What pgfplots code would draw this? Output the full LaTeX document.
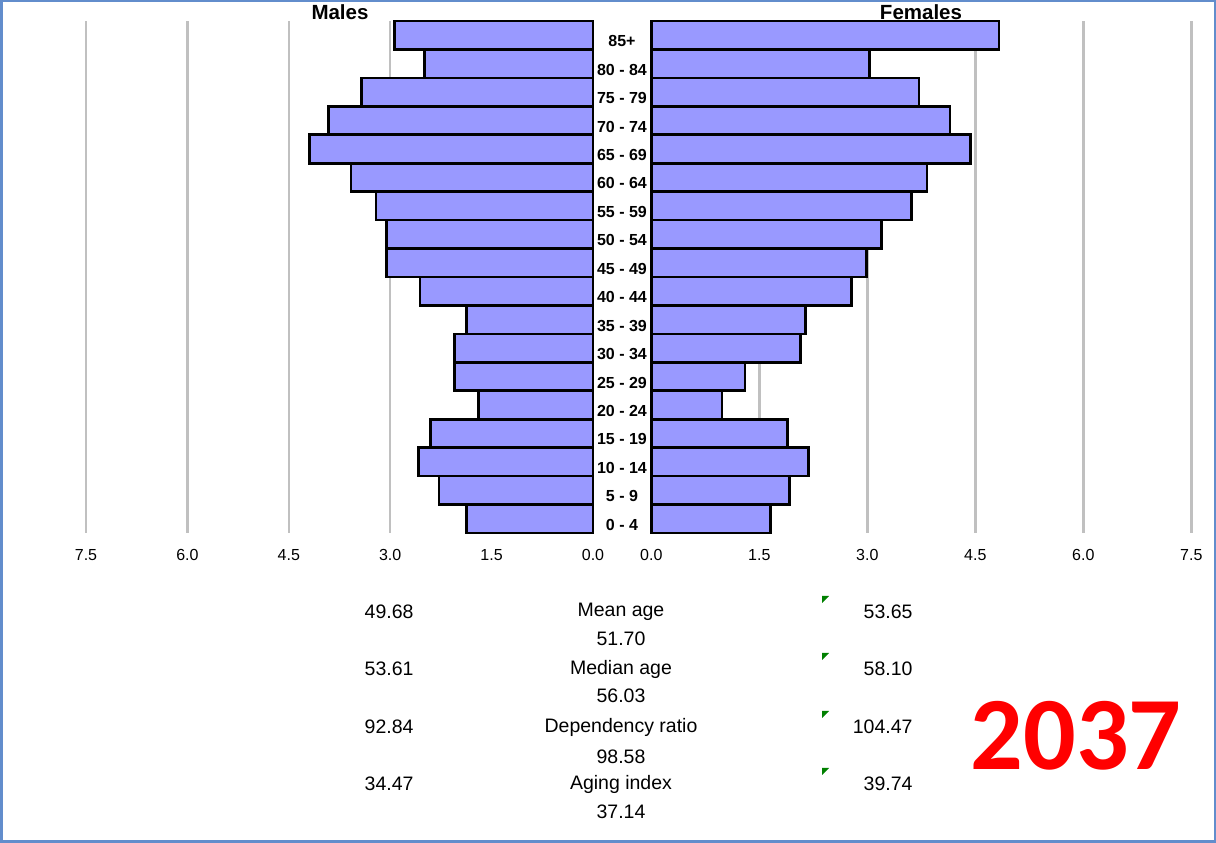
\documentclass[border=0pt]{standalone}
\usepackage{fontspec}
\setmainfont{Liberation Sans}
\newfontfamily\carlito{Carlito}
\usepackage{pgfplots}
\pgfplotsset{compat=1.18}

\definecolor{barfill}{RGB}{153,153,255}
\definecolor{gridgray}{RGB}{192,192,192}
\definecolor{framecol}{RGB}{98,141,204}
\definecolor{errgreen}{RGB}{0,128,0}

\pgfplotsset{
  pyr/.style={
    scale only axis, height=512pt,
    ymin=-0.5, ymax=17.5,
    xmin=0, xmax=7.5, xtick={0,1.5,3,4.5,6,7.5},
    axis line style={draw=none}, major tick length=0pt,
    xmajorgrids, grid style={gridgray, line width=2.5pt},
    xbar, bar width=1, clip=false,
    xticklabel style={anchor=center, yshift=-22pt, font=\fontsize{16}{19}\selectfont},
    /pgf/number format/fixed,
    /pgf/number format/fixed zerofill,
    /pgf/number format/precision=1,
    /pgf/number format/assume math mode=true,
  },
  bars/.style={fill=barfill, draw=black, line width=2.7pt},
}

\begin{document}
\begin{tikzpicture}[x=1pt, y=1pt]
  \path[use as bounding box] (0,0) rectangle (1216,843);

  % males, reversed
  \begin{axis}[pyr, at={(86pt,310pt)}, anchor=south west, width=507pt,
      x dir=reverse, ytick=\empty]
    \addplot[bars] coordinates {
      (1.87,0) (2.28,1) (2.58,2) (2.40,3) (1.69,4) (2.05,5)
      (2.05,6) (1.87,7) (2.56,8) (3.05,9) (3.05,10) (3.21,11)
      (3.58,12) (4.19,13) (3.91,14) (3.42,15) (2.49,16) (2.94,17)
    };
  \end{axis}

  % females, with age labels in the middle
  \begin{axis}[pyr, at={(651.3pt,310pt)}, anchor=south west, width=540pt,
      ytick={0,...,17},
      yticklabels={0 - 4,5 - 9,10 - 14,15 - 19,20 - 24,25 - 29,30 - 34,35 - 39,
        40 - 44,45 - 49,50 - 54,55 - 59,60 - 64,65 - 69,70 - 74,75 - 79,80 - 84,85+},
      yticklabel style={anchor=center, xshift=-29.3pt, yshift=-6pt,
        font=\bfseries\fontsize{16}{19}\selectfont}]
    \addplot[bars] coordinates {
      (1.66,0) (1.92,1) (2.18,2) (1.89,3) (0.98,4) (1.30,5)
      (2.07,6) (2.14,7) (2.78,8) (2.99,9) (3.20,10) (3.61,11)
      (3.83,12) (4.43,13) (4.15,14) (3.72,15) (3.03,16) (4.83,17)
    };
  \end{axis}

  \node[font=\bfseries\fontsize{20.5}{24}\selectfont] at (340,831) {Males};
  \node[font=\bfseries\fontsize{20.5}{24}\selectfont] at (921,831) {Females};

  % indicators
  \begin{scope}[font=\fontsize{19.5}{22}\selectfont]
    \node[anchor=east] at (417,231) {49.68};
    \node at (621,231) {Mean age};
    \node[anchor=east] at (916,231) {53.65};
    \node at (621,204) {51.70};
    \node[anchor=east] at (417,174) {53.61};
    \node at (621,174) {Median age};
    \node[anchor=east] at (916,174) {58.10};
    \node at (621,147) {56.03};
    \node[anchor=east] at (417,116) {92.84};
    \node at (621,116) {Dependency ratio};
    \node[anchor=east] at (916,116) {104.47};
    \node at (621,86) {98.58};
    \node[anchor=east] at (417,59) {34.47};
    \node at (621,59) {Aging index};
    \node[anchor=east] at (916,59) {39.74};
    \node at (621,31) {37.14};
  \end{scope}
  \foreach \yy in {247,190,132,75}
    \fill[errgreen] (822,\yy) -- (829,\yy) -- (822,\yy-7) -- cycle;

  \node[text=red, font=\carlito\bfseries\fontsize{104}{110}\selectfont] at (1076,107) {2037};

  \draw[framecol, line width=2.5pt] (1.25,1.25) rectangle (1214.75,841.75);
\end{tikzpicture}
\end{document}
